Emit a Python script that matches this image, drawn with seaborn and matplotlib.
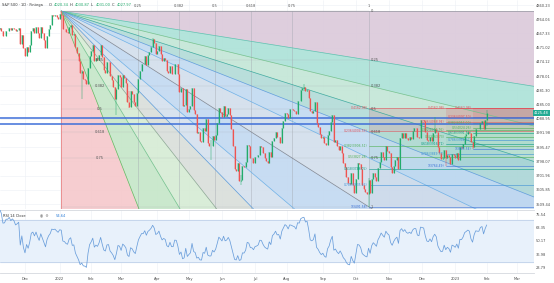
import numpy as np
import pandas as pd
import matplotlib
matplotlib.use("Agg")
import matplotlib.pyplot as plt
import matplotlib.transforms as mtransforms
from matplotlib.patches import Polygon
import seaborn as sns

# ---------------- data ----------------
nyse_holidays = ["2021-11-25", "2021-12-24", "2022-01-17", "2022-02-21", "2022-04-15",
                 "2022-05-30", "2022-06-20", "2022-07-04", "2022-09-05", "2022-11-24",
                 "2022-12-26", "2023-01-02", "2023-01-16", "2023-02-20"]
first_day = "2021-11-08"

# warm-up closes (Oct 1 - Nov 5 2021), only used for RSI
close_warmup = [4357.0, 4300.5, 4345.7, 4363.6, 4399.8, 4391.3, 4361.2, 4350.7, 4363.8, 4438.3,
                4471.4, 4486.5, 4519.6, 4536.2, 4549.8, 4544.9, 4566.5, 4574.8, 4551.7, 4596.4,
                4605.4, 4613.7, 4630.7, 4660.6, 4680.1, 4697.5]
close_2021_11 = [4701.7, 4685.3, 4646.7, 4649.3, 4682.9, 4682.8, 4700.9, 4688.7, 4704.5, 4697.96,
                 4682.9, 4690.7, 4701.5, 4594.6, 4655.3, 4567.0]
close_2021_12 = [4513.0, 4577.1, 4538.4, 4591.7, 4686.8, 4701.2, 4667.5, 4712.0, 4668.97, 4634.1,
                 4709.9, 4668.7, 4620.6, 4568.0, 4649.2, 4696.6, 4725.8, 4791.2, 4786.4, 4793.1,
                 4778.7, 4766.2]
close_2022_01 = [4796.6, 4793.5, 4700.6, 4696.1, 4677.0, 4670.3, 4713.1, 4726.4, 4659.0, 4662.9,
                 4577.1, 4532.8, 4482.7, 4397.9, 4410.1, 4356.5, 4349.9, 4326.5, 4431.9, 4515.6]
close_2022_02 = [4546.5, 4589.4, 4477.4, 4500.5, 4483.9, 4521.5, 4587.2, 4504.1, 4418.6, 4401.7,
                 4471.1, 4475.0, 4380.3, 4348.9, 4304.8, 4225.5, 4288.7, 4384.7, 4373.9]
close_2022_03 = [4306.3, 4386.5, 4363.5, 4328.9, 4201.1, 4170.7, 4277.9, 4259.5, 4204.3, 4173.1,
                 4262.5, 4357.9, 4411.7, 4463.1, 4461.2, 4511.6, 4456.2, 4520.2, 4543.1, 4575.5,
                 4631.6, 4602.5, 4530.4]
close_2022_04 = [4545.9, 4582.6, 4525.1, 4481.2, 4500.2, 4488.3, 4412.5, 4397.5, 4446.6, 4392.6,
                 4391.7, 4462.2, 4459.5, 4393.7, 4271.8, 4296.1, 4175.2, 4183.96, 4287.5, 4131.9]
close_2022_05 = [4155.4, 4175.5, 4300.2, 4146.9, 4123.3, 3991.2, 4001.1, 3935.2, 3930.1, 4023.9,
                 4008.0, 4088.9, 3923.7, 3900.8, 3901.4, 3973.8, 3941.5, 3978.7, 4057.8, 4158.2,
                 4132.2]
close_2022_06 = [4101.2, 4176.8, 4108.5, 4121.4, 4160.7, 4115.8, 4017.8, 3900.9, 3749.6, 3735.5,
                 3789.99, 3666.8, 3674.8, 3764.8, 3759.9, 3795.7, 3911.7, 3900.1, 3821.6, 3818.8,
                 3785.4]
close_2022_07 = [3825.3, 3831.4, 3845.1, 3902.6, 3899.4, 3854.4, 3818.8, 3801.8, 3790.4, 3863.2,
                 3830.9, 3936.7, 3959.9, 3998.95, 3961.6, 3966.8, 3921.1, 4023.6, 4072.4, 4130.3]
close_2022_08 = [4118.6, 4091.2, 4155.2, 4151.9, 4145.2, 4140.1, 4122.5, 4210.2, 4207.3, 4280.2,
                 4297.1, 4305.2, 4274.0, 4283.7, 4228.5, 4137.99, 4128.7, 4140.8, 4199.1, 4057.7,
                 4030.6, 3986.2, 3955.0]
close_2022_09 = [3966.9, 3924.3, 3908.2, 3979.9, 4006.2, 4067.4, 4110.4, 3932.7, 3946.0, 3901.4,
                 3873.3, 3899.9, 3855.9, 3789.9, 3757.99, 3693.2, 3655.0, 3647.3, 3719.0, 3640.5,
                 3585.6]
close_2022_10 = [3678.4, 3790.9, 3783.3, 3744.5, 3639.7, 3612.4, 3588.8, 3577.0, 3669.9, 3583.1,
                 3677.95, 3719.98, 3695.2, 3665.8, 3752.8, 3797.3, 3859.1, 3830.6, 3807.3, 3901.1,
                 3871.98]
close_2022_11 = [3856.1, 3759.7, 3719.9, 3770.6, 3806.8, 3828.1, 3748.6, 3956.4, 3992.9, 3957.3,
                 3991.7, 3958.8, 3946.6, 3965.3, 3949.9, 4003.6, 4027.3, 4026.1, 3963.9, 3957.6,
                 4080.1]
close_2022_12 = [4076.6, 4071.7, 3998.8, 3941.3, 3933.9, 3963.5, 3934.4, 3990.6, 4019.7, 3995.3,
                 3895.8, 3852.4, 3817.7, 3821.6, 3878.4, 3822.4, 3844.8, 3829.3, 3783.2, 3849.3,
                 3839.5]
close_2023_01 = [3824.1, 3852.97, 3808.1, 3895.1, 3892.1, 3919.3, 3969.6, 3983.2, 3999.1, 3990.97,
                 3928.9, 3898.9, 3972.6, 4019.8, 4016.95, 4016.2, 4060.4, 4070.6, 4017.8, 4076.6]
close_2023_02 = [4125.48]

# intraday extremes (high, low) of notable sessions
session_extremes = {
    "2022-01-04": (4818.62, 4774.27), "2022-01-24": (4417.35, 4222.62),
    "2022-02-24": (4294.73, 4114.65), "2022-03-08": (4276.94, 4157.87),
    "2022-03-29": (4637.30, 4589.66), "2022-05-20": (3943.08, 3810.32),
    "2022-06-17": (3707.71, 3636.87), "2022-08-16": (4325.28, 4277.77),
    "2022-10-13": (3685.41, 3491.58), "2022-11-10": (3958.33, 3859.90),
    "2022-12-13": (4100.96, 3993.03), "2022-12-22": (3841.0, 3764.49),
    "2023-01-19": (3922.0, 3885.54), "2023-02-01": (4148.95, 4037.20),
}

fan_start = ("2022-01-04", 4818.62)
fan_end = ("2022-10-13", 3491.58)
fan_levels = [0.25, 0.382, 0.5, 0.618, 0.75]

fib_levels = [0, 0.236, 0.382, 0.5, 0.618, 0.786, 1]
fib_colors = ["#e0505a", "#e0505a", "#4caf50", "#4caf50", "#089981", "#3a8fd6", "#3a6fd6"]
fib_tools = [("2022-10-13", 4162.98, 3491.58),
             ("2022-12-22", 4162.98, 3764.49),
             ("2023-01-19", 4162.98, 3885.54)]

blue_lines = [4093.0, 4052.0]
last_price = 4125.48
price_ticks = [4860.23, 4764.06, 4667.33, 4571.02, 4474.12, 4378.01, 4281.30, 4185.00,
               4088.95, 3991.98, 3895.47, 3798.07, 3701.96, 3605.85, 3509.44]
rsi_ticks = [75.54, 63.35, 50.17, 36.98, 23.79]
rsi_period = 14
header_values = [("O", "4020.34"), ("H", "4030.87"), ("L", "4031.00"), ("C", "4027.97")]
rsi_value_label = "54.64"

# ---------------- prepare ----------------
closes = np.array(close_2021_11 + close_2021_12 + close_2022_01 + close_2022_02 + close_2022_03 +
                  close_2022_04 + close_2022_05 + close_2022_06 + close_2022_07 + close_2022_08 +
                  close_2022_09 + close_2022_10 + close_2022_11 + close_2022_12 + close_2023_01 +
                  close_2023_02)
cbd = pd.offsets.CustomBusinessDay(holidays=nyse_holidays)
cal = pd.date_range(first_day, "2023-03-31", freq=cbd)
n = len(closes)
idx = np.arange(n)
opens = np.concatenate([[close_warmup[-1]], closes[:-1]])
highs = np.maximum(opens, closes)
lows = np.minimum(opens, closes)
for d, (h, l) in session_extremes.items():
    k = cal.get_loc(pd.Timestamp(d))
    if k < n:
        highs[k] = max(highs[k], h)
        lows[k] = min(lows[k], l)


def pos(d):
    return cal.get_loc(pd.Timestamp(d))


# RSI (Wilder)
allc = np.array(close_warmup + list(closes))
diff = np.diff(allc)
up = np.clip(diff, 0, None)
dn = np.clip(-diff, 0, None)
rsi_all = np.full(len(allc), np.nan)
au = up[:rsi_period].mean()
ad = dn[:rsi_period].mean()
rsi_all[rsi_period] = 100 - 100 / (1 + au / ad)
for i in range(rsi_period + 1, len(allc)):
    au = (au * (rsi_period - 1) + up[i - 1]) / rsi_period
    ad = (ad * (rsi_period - 1) + dn[i - 1]) / rsi_period
    rsi_all[i] = 100 - 100 / (1 + au / ad)
rsi = rsi_all[len(close_warmup):]
rsi_df = pd.DataFrame({"i": idx, "rsi": rsi})

# ---------------- figure ----------------
sns.set_theme(style="white")
plt.rcParams["font.family"] = ["DejaVu Sans"]
W, H = 554, 283
fig = plt.figure(figsize=(W / 100, H / 100), dpi=100)


def rect(x0, y0, x1, y1):
    return [x0 / W, 1 - y1 / H, (x1 - x0) / W, (y1 - y0) / H]


ax = fig.add_axes(rect(0, 0, 534, 209))
axr = fig.add_axes(rect(0, 210, 534, 273))
XL = (0.14, 339.0)
YL = (3475.5, 4894.2)
RL = (18.9, 80.1)
for a in (ax, axr):
    a.set_xlim(*XL)
    for s in a.spines.values():
        s.set_visible(False)
ax.set_ylim(*YL)
axr.set_ylim(*RL)

tick_col = "#4a4a4a"
fs = 2.6

# month ticks
m_pos, m_lab = [], []
for per in pd.period_range("2021-12", "2023-03", freq="M"):
    sel = cal[(cal.year == per.year) & (cal.month == per.month)]
    m_pos.append(cal.get_loc(sel[0]))
    m_lab.append(str(per.year) if per.month == 1 else sel[0].strftime("%b"))

grid_c = "#edf0f5"
for a in (ax, axr):
    for p in m_pos:
        a.axvline(p, color=grid_c, lw=0.4, zorder=0)
for p in price_ticks:
    ax.axhline(p, color=grid_c, lw=0.4, zorder=0)

# ---------- Fib speed resistance fan ----------
i0, p0 = pos(fan_start[0]), fan_start[1]
i1, p1 = pos(fan_end[0]), fan_end[1]
xmax = XL[1] + 5
ymin = YL[0] - 300

targets = [(i1, p0)]
targets += [(i1, p0 - L * (p0 - p1)) for L in fan_levels]
targets += [(i1, p1)]
targets += [(i0 + L * (i1 - i0), p1) for L in fan_levels[::-1]]
targets += [(i0, p1)]


def exit_pt(tx, ty):
    dx, dy = tx - i0, ty - p0
    if dx == 0:
        return (i0, ymin)
    t = (xmax - i0) / dx
    yy = p0 + t * dy
    if yy >= ymin:
        return (xmax, yy)
    t = (ymin - p0) / dy
    return (i0 + t * dx, ymin)


exits = [exit_pt(*t) for t in targets]
wedge_cols = ["#dccadb", "#ade2d8", "#c4e6d7", "#b3dcd8", "#c3dbf1", "#d3dfec",
              "#c3d9f1", "#d5e1ee", "#d9dfdb", "#d6ecd5", "#c6e7c9", "#f6c9cc"]
for k in range(len(exits) - 1):
    a_, b_ = exits[k], exits[k + 1]
    pts = [(i0, p0), a_]
    if a_[0] >= xmax - 1e-9 and b_[1] <= ymin + 1e-9 and b_[0] < xmax - 1e-9:
        pts.append((xmax, ymin))
    pts.append(b_)
    ax.add_patch(Polygon(pts, closed=True, facecolor=wedge_cols[k], edgecolor="none",
                         alpha=0.92, zorder=0.5))

line_cols = ["#9598a1", "#5bbfae", "#6fbf8a", "#3aa89c", "#5a9ad9", "#6aaee6", "#7f8590",
             "#6aaee6", "#5a9ad9", "#8aa592", "#6fbf8a", "#5cb85c", "#e57373"]
for k, e in enumerate(exits):
    ax.plot([i0, e[0]], [p0, e[1]], color=line_cols[k], lw=0.5, zorder=2)

# grid of the fan
time_levels = [0.25, 0.382, 0.5, 0.618, 0.75, 1]
for L in time_levels:
    xv = i0 + L * (i1 - i0)
    ax.plot([xv, xv], [p0, YL[0]], color="#a0a4ad", lw=0.4, alpha=0.7, zorder=1.5)
    ax.text(xv, p0 + 22, f"{L:g}", fontsize=fs, color="#555", ha="center", va="bottom", zorder=6)
for L in [0] + fan_levels + [1]:
    yv = p0 - L * (p0 - p1)
    ax.plot([i0, i1], [yv, yv], color="#a0a4ad", lw=0.3, alpha=0.45, zorder=1.5)
    ax.text(i1 + 1.5, yv, f"{L:g}", fontsize=fs, color="#555", ha="left", va="center", zorder=6)
    if 0 < L < 1:
        ax.text(i0 + 0.125 * (i1 - i0), yv, f"{L:g}", fontsize=fs, color="#555",
                ha="center", va="center", zorder=6)

# ---------- Fib retracements ----------
fill_alpha = [0, 0.16, 0.05, 0.06, 0.05, 0.05, 0.05]
for (d, hi, lo) in fib_tools:
    s = pos(d)
    lev_p = [hi - L * (hi - lo) for L in fib_levels]
    for k in range(1, len(fib_levels)):
        ax.fill_between([s, XL[1]], lev_p[k - 1], lev_p[k], color=fib_colors[k],
                        alpha=fill_alpha[k], lw=0, zorder=1)
    for k, L in enumerate(fib_levels):
        ax.plot([s, XL[1]], [lev_p[k], lev_p[k]], color=fib_colors[k], lw=0.5, alpha=0.8, zorder=2.2)
        lab = f"{L:g}({lev_p[k]:.2f})"
        ax.text(s - 0.8, lev_p[k], lab, fontsize=2.2, color=fib_colors[k],
                ha="right", va="center", zorder=6)

# horizontal blue lines
for b in blue_lines:
    ax.axhline(b, color="#3f6fd8", lw=1.1, zorder=3)

# ---------- candles ----------
up_c, dn_c = "#22ab6b", "#ef5350"
cols = np.where(closes >= opens, up_c, dn_c)
ax.vlines(idx, lows, highs, colors=cols, lw=0.35, zorder=4)
ax.vlines(idx, np.minimum(opens, closes), np.maximum(opens, closes), colors=cols, lw=0.85, zorder=4)

# ---------- axes ticks ----------
ax.yaxis.tick_right()
ax.set_yticks(price_ticks)
ax.set_yticklabels([f"{p:.2f}" for p in price_ticks])
ax.tick_params(axis="y", length=0, pad=1.5, labelsize=fs, labelcolor=tick_col)
ax.set_xticks([])

ax.text(1.0, last_price, f"{last_price:.2f}",
        transform=mtransforms.blended_transform_factory(ax.transAxes, ax.transData),
        fontsize=fs, color="white", ha="left", va="center", zorder=10, clip_on=False,
        bbox=dict(boxstyle="square,pad=0.25", fc="#22ab94", ec="none"))

# header
fig.text(2 / W, 1 - 5 / H, "S&P 500 · 1D · Fintega", fontsize=fs, color="#333", va="center")
hx = 49
for lab, val in header_values:
    fig.text(hx / W, 1 - 5 / H, lab, fontsize=fs, color="#333", va="center")
    fig.text((hx + 5) / W, 1 - 5 / H, val, fontsize=fs, color="#22ab6b", va="center")
    hx += 21

# ---------- RSI ----------
axr.axhspan(30, 70, color="#e8f1fb", zorder=0)
axr.axhline(70, color="#b8cbe6", lw=0.5, zorder=1)
axr.axhline(30, color="#b8cbe6", lw=0.5, zorder=1)
sns.lineplot(data=rsi_df, x="i", y="rsi", ax=axr, color="#6a9edb", lw=0.55, zorder=3)
axr.set_xlabel("")
axr.set_ylabel("")
axr.yaxis.tick_right()
axr.set_yticks(rsi_ticks)
axr.set_yticklabels([f"{r:.2f}" for r in rsi_ticks])
axr.tick_params(axis="y", length=0, pad=1.5, labelsize=fs, labelcolor=tick_col)
axr.set_xticks(m_pos)
axr.set_xticklabels(m_lab)
axr.tick_params(axis="x", length=0, pad=3, labelsize=fs, labelcolor=tick_col)
for side in ("top", "bottom"):
    axr.spines[side].set_visible(True)
    axr.spines[side].set_color("#d5d8de")
    axr.spines[side].set_linewidth(0.6)
axr.text(0.006, 0.9, "RSI 14 Close", transform=axr.transAxes, fontsize=fs, color="#333", va="center")
axr.text(0.075, 0.9, "◉  ⚙", transform=axr.transAxes, fontsize=fs, color="#888", va="center")
axr.text(0.105, 0.9, rsi_value_label, transform=axr.transAxes, fontsize=fs, color="#2f7fd8", va="center")

fig.savefig("out.png", dpi=100)
